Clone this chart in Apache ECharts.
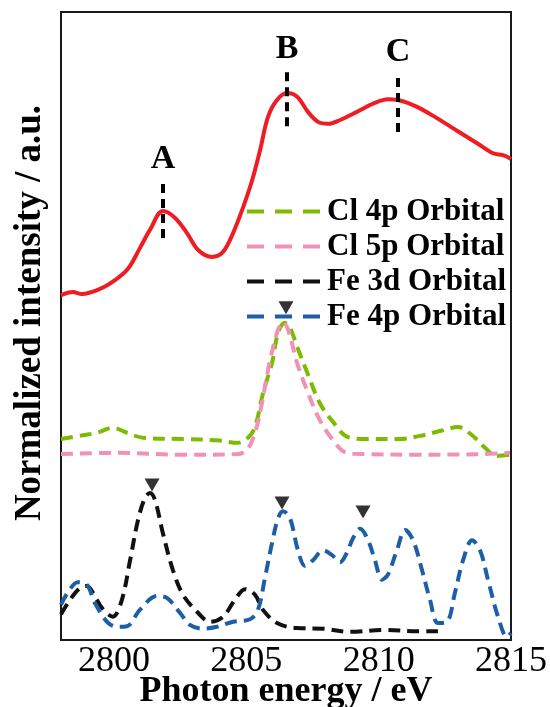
<!DOCTYPE html>
<html><head><meta charset="utf-8">
<script src="https://cdn.jsdelivr.net/npm/echarts@6/dist/echarts.min.js"></script>
<style>html,body{margin:0;padding:0;background:#fff}#c{width:550px;height:707px}</style>
</head><body><div id="c"></div>
<script>
// ---- data ----
const xTicks = [2800, 2805, 2810, 2815];

const expX = [2798.0,2798.45,2798.79,2799.47,2800.04,2800.53,2800.98,2801.36,2801.85,2802.31,2802.76,2803.18,2803.70,2804.12,2804.50,2804.88,2805.22,2805.52,2805.82,2806.16,2806.54,2806.92,2807.33,2807.71,2808.09,2808.54,2809.18,2809.79,2810.35,2810.73,2811.45,2812.20,2812.96,2813.72,2814.32,2814.70,2815.0];
const expY = [54.9,55.4,55.1,55.9,57.3,59.1,62.4,65.3,68.3,67.2,64.8,62.1,61.0,61.8,64.8,68.9,73.2,78.0,83.3,86.0,87.1,86.5,84.1,82.5,82.2,82.8,84.1,85.4,86.1,86.0,84.9,83.1,81.1,79.1,77.5,77.2,76.6];

const cl4pX = [2798.0,2798.83,2799.36,2799.96,2800.49,2801.10,2802.61,2803.89,2804.69,2805.06,2805.33,2805.63,2805.97,2806.20,2806.46,2806.65,2806.92,2807.29,2807.78,2808.28,2808.84,2809.56,2810.81,2811.56,2812.43,2813.00,2813.53,2814.02,2814.47,2814.96];
const cl4pY = [32.0,32.6,33.0,33.8,33.0,32.2,32.0,31.8,31.4,32.2,33.9,39.3,44.1,48.9,50.5,49.7,46.7,42.7,37.7,34.7,32.3,32.0,32.0,32.5,33.4,33.9,32.6,30.6,29.3,29.5];

const cl5pX = [2798.0,2800.12,2802.61,2804.65,2805.03,2805.33,2805.59,2805.90,2806.20,2806.39,2806.58,2806.92,2807.29,2807.78,2808.28,2808.80,2809.56,2811.45,2813.94,2814.96];
const cl5pY = [29.6,29.8,29.5,29.6,30.3,33.0,37.7,44.6,49.4,50.6,49.4,44.1,39.8,35.0,31.8,29.8,29.6,29.5,29.6,29.8];

const fe3dX = [2798.0,2798.34,2798.72,2798.98,2799.21,2799.55,2799.96,2800.30,2800.61,2800.91,2801.17,2801.36,2801.55,2801.85,2802.23,2802.61,2803.14,2803.63,2804.12,2804.57,2804.95,2805.33,2805.63,2806.16,2806.92,2807.90,2808.92,2810.16,2811.45,2812.24];
const fe3dY = [4.1,6.4,8.3,8.6,7.5,5.1,3.7,6.4,12.7,19.1,22.6,23.4,22.3,17.0,11.1,7.2,4.5,2.9,3.7,6.4,8.1,7.2,4.8,2.7,1.9,1.8,1.3,1.6,1.4,1.4];

const fe4pX = [2798.0,2798.26,2798.64,2798.98,2799.28,2799.74,2800.12,2800.49,2800.98,2801.63,2802.00,2802.50,2802.87,2803.36,2803.89,2804.50,2805.14,2805.44,2805.71,2805.97,2806.20,2806.39,2806.65,2806.95,2807.22,2807.52,2807.90,2808.24,2808.54,2808.80,2809.03,2809.30,2809.60,2809.86,2810.13,2810.35,2810.69,2811.00,2811.30,2811.64,2811.94,2812.24,2812.58,2812.88,2813.19,2813.53,2813.83,2814.13,2814.51,2814.85,2815.0];
const fe4pY = [5.6,7.6,9.2,8.8,5.9,2.9,2.1,2.2,4.8,7.0,6.7,4.3,2.4,1.8,2.1,2.9,3.3,4.8,10.0,15.4,19.4,20.5,19.4,14.3,11.8,12.7,14.3,13.5,12.4,13.9,16.2,17.7,15.9,12.7,9.6,10.4,14.3,17.5,15.9,11.1,6.4,2.7,2.9,7.5,12.7,15.9,14.3,9.6,3.7,0.5,1.1];

// peak annotations (A, B, C)
const peakNames = ['A', 'B', 'C'];
const peakX = [2801.85, 2806.54, 2810.73];
const peakLow = [64.0, 81.8, 80.9];
const peakHigh = [73.2, 90.8, 90.3];

// triangle markers
const triX = [2801.44, 2806.35, 2809.41, 2806.50];
const triY = [24.7, 21.8, 20.4, 52.9];

const names = ['Cl 4p Orbital', 'Cl 5p Orbital', 'Fe 3d Orbital', 'Fe 4p Orbital'];

// ---- build ----
const zip = (xs, ys) => xs.map((x, i) => [x, ys[i]]);
const serif = "'Liberation Serif','Times New Roman',serif";
const dash = [12, 7];

const chart = echarts.init(document.getElementById('c'), null, {renderer: 'canvas'});
chart.setOption({
  animation: false,
  backgroundColor: '#fff',
  grid: {left: 61, right: 39, top: 12, bottom: 67, outerBoundsMode: 'none', containLabel: false,
         show: true, borderColor: '#1a1a1a', borderWidth: 2, backgroundColor: 'transparent'},
  xAxis: {
    type: 'value', min: 2798, max: 2815, interval: 5,
    axisLine: {show: false}, axisTick: {show: false}, splitLine: {show: false},
    axisLabel: {
      fontFamily: serif, fontSize: 36, color: '#000', margin: 4,
      customValues: xTicks,
      formatter: v => xTicks.includes(v) ? String(v) : ''
    },
    name: 'Photon energy / eV', nameLocation: 'middle', nameGap: 34, nameMoveOverlap: false,
    nameTextStyle: {fontFamily: serif, fontSize: 36, fontWeight: 'bold', color: '#000'}
  },
  yAxis: {
    type: 'value', min: 0, max: 100,
    axisLine: {show: false}, axisTick: {show: false}, splitLine: {show: false}, axisLabel: {show: false},
    name: 'Normalized intensity / a.u.', nameLocation: 'middle', nameGap: 12, nameRotate: 90, nameMoveOverlap: false,
    nameTextStyle: {fontFamily: serif, fontSize: 37, fontWeight: 'bold', color: '#000', padding: [0, 0, 0, 26]}
  },
  legend: {
    data: names, orient: 'vertical', left: 240, top: 189,
    itemWidth: 75, itemHeight: 14, itemGap: 0,
    lineStyle: {type: [17, 11], width: 4},
    itemStyle: {color: 'transparent', borderColor: 'transparent', borderWidth: 0, opacity: 0},
    textStyle: {fontFamily: serif, fontSize: 31, fontWeight: 'bold', color: '#000', lineHeight: 35}
  },
  series: [
    {
      type: 'line', name: 'exp', data: zip(expX, expY), smooth: 0.35, symbol: 'none',
      lineStyle: {color: '#ee1c23', width: 4}, itemStyle: {color: '#ee1c23'}, z: 3,
      markLine: {
        silent: true, symbol: 'none', animation: false,
        lineStyle: {color: '#000', type: [9, 6], width: 4},
        label: {show: true, position: 'end', distance: 4, formatter: '{b}', fontFamily: serif, fontSize: 34, fontWeight: 'bold', color: '#000'},
        data: peakNames.map((n, i) => [
          {name: n, coord: [peakX[i], peakLow[i]]},
          {coord: [peakX[i], peakHigh[i]]}
        ])
      }
    },
    {type: 'line', name: names[0], data: zip(cl4pX, cl4pY), smooth: 0.35, symbol: 'none',
     lineStyle: {color: '#7dbb00', width: 4, type: dash}, itemStyle: {color: '#7dbb00'}},
    {type: 'line', name: names[1], data: zip(cl5pX, cl5pY), smooth: 0.35, symbol: 'none',
     lineStyle: {color: '#f291b8', width: 4, type: dash}, itemStyle: {color: '#f291b8'}},
    {type: 'line', name: names[2], data: zip(fe3dX, fe3dY), smooth: 0.35, symbol: 'none',
     lineStyle: {color: '#111', width: 4, type: dash}, itemStyle: {color: '#111'}},
    {type: 'line', name: names[3], data: zip(fe4pX, fe4pY), smooth: 0.35, symbol: 'none',
     lineStyle: {color: '#1d5fa6', width: 4, type: dash}, itemStyle: {color: '#1d5fa6'}},
    {type: 'scatter', name: 'peaks', data: zip(triX, triY), symbol: 'triangle', symbolRotate: 180,
     symbolSize: [15, 13], itemStyle: {color: '#000'}, z: 10}
  ]
});
</script></body></html>
